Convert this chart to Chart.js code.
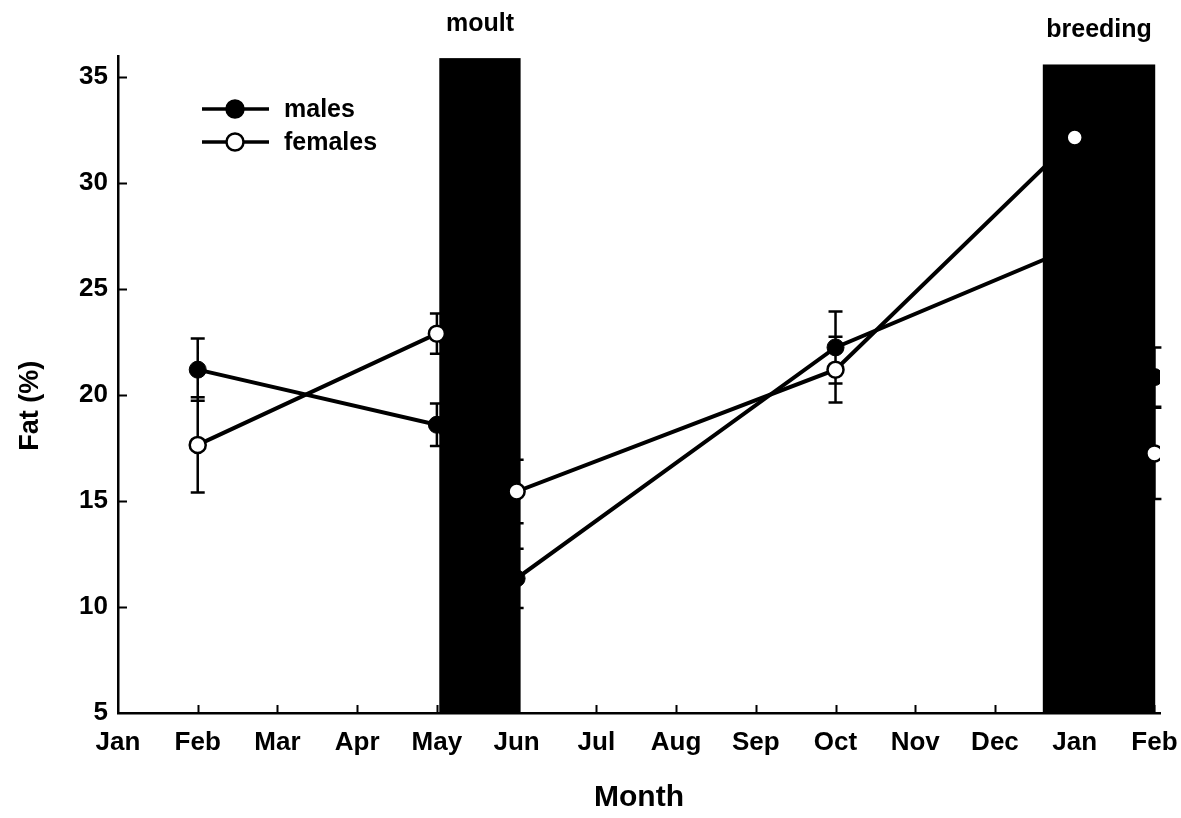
<!DOCTYPE html>
<html>
<head>
<meta charset="utf-8">
<title>Fat (%) by month</title>
<script src="https://cdn.jsdelivr.net/npm/chart.js@4/dist/chart.umd.min.js"></script>
<style>
  html, body { margin: 0; padding: 0; background: #fff; }
  #wrap { width: 1181px; height: 818px; }
</style>
</head>
<body>
<div id="wrap"><canvas id="fatChart" width="1181" height="818"></canvas></div>
<script>
const monthLabels = ["Jan", "Feb", "Mar", "Apr", "May", "Jun", "Jul", "Aug", "Sep", "Oct", "Nov", "Dec", "Jan", "Feb"];
const yTicks = [5, 10, 15, 20, 25, 30, 35];

// sampling months as index into monthLabels
const sampleMonths = [1, 4, 5, 9, 12, 13];
const malesFat = [21.2, 18.6, 11.35, 22.25, 27.0, 20.85];
const malesErr = [1.47, 1.0, 1.4, 1.7, null, 1.4];
const femalesFat = [17.65, 22.9, 15.45, 21.2, 32.15, 17.25];
const femalesErr = [2.25, 0.95, 1.5, 1.55, null, 2.15];

// shaded periods (month units)
const periodNames = ["moult", "breeding"];
const periodStart = [4.03, 11.6];
const periodEnd = [5.05, 13.01];
const periodTop = [35.9, 35.6];

const FONT = "'Liberation Sans', Arial, Helvetica, sans-serif";

const toPoints = (vals) => sampleMonths.map((m, i) => ({ x: m, y: vals[i] }));

// black bars for moult / breeding, error bars and inward ticks, under the lines
const underlayPlugin = {
  id: "underlay",
  beforeDatasetsDraw(chart) {
    const { ctx, scales: { x, y } } = chart;
    ctx.save();

    // inward tick marks
    ctx.strokeStyle = "#000";
    ctx.lineWidth = 2;
    ctx.beginPath();
    yTicks.slice(1).forEach((v) => {
      const py = Math.round(y.getPixelForValue(v)) + 0.5;
      ctx.moveTo(x.left, py);
      ctx.lineTo(x.left + 9, py);
    });
    monthLabels.forEach((_, i) => {
      if (i === 0) return;
      const px = Math.round(x.getPixelForValue(i)) + 0.5;
      ctx.moveTo(px, y.bottom);
      ctx.lineTo(px, y.bottom - 8);
    });
    ctx.stroke();

    ctx.fillStyle = "#000";
    periodNames.forEach((_, i) => {
      const x0 = x.getPixelForValue(periodStart[i]);
      const x1 = x.getPixelForValue(periodEnd[i]);
      const top = y.getPixelForValue(periodTop[i]);
      ctx.fillRect(x0, top, x1 - x0, y.bottom - top);
    });

    // error bars
    ctx.lineWidth = 2.5;
    ctx.beginPath();
    [[malesFat, malesErr], [femalesFat, femalesErr]].forEach(([vals, errs]) => {
      sampleMonths.forEach((m, i) => {
        if (errs[i] == null) return;
        const px = x.getPixelForValue(m);
        const hi = y.getPixelForValue(vals[i] + errs[i]);
        const lo = y.getPixelForValue(vals[i] - errs[i]);
        ctx.moveTo(px, hi);
        ctx.lineTo(px, lo);
        ctx.moveTo(px - 7, hi);
        ctx.lineTo(px + 7, hi);
        ctx.moveTo(px - 7, lo);
        ctx.lineTo(px + 7, lo);
      });
    });
    ctx.stroke();
    ctx.restore();
  },
  afterDraw(chart) {
    const { ctx, scales: { x, y } } = chart;
    ctx.save();
    ctx.fillStyle = "#000";
    ctx.textAlign = "center";
    ctx.textBaseline = "alphabetic";
    ctx.font = "bold 25px " + FONT;
    periodNames.forEach((name, i) => {
      const cx = (x.getPixelForValue(periodStart[i]) + x.getPixelForValue(periodEnd[i])) / 2;
      ctx.fillText(name, cx, y.getPixelForValue(periodTop[i]) - 27);
    });

    // y axis title, sits a little below the middle of the axis
    ctx.save();
    ctx.translate(31, y.getPixelForValue(19.5));
    ctx.rotate(-Math.PI / 2);
    ctx.textBaseline = "middle";
    ctx.font = "bold 27px " + FONT;
    ctx.fillText("Fat (%)", 0, 0);
    ctx.restore();

    // legend
    ctx.font = "bold 25px " + FONT;
    const rows = [
      { label: "males", fill: "#000" },
      { label: "females", fill: "#fff" },
    ];
    const lx = x.left + 84;
    rows.forEach((r, i) => {
      const ly = y.top + 53 + i * 33;
      ctx.strokeStyle = "#000";
      ctx.lineWidth = 3.5;
      ctx.beginPath();
      ctx.moveTo(lx, ly);
      ctx.lineTo(lx + 67, ly);
      ctx.stroke();
      ctx.beginPath();
      ctx.arc(lx + 33, ly, 8.5, 0, Math.PI * 2);
      ctx.fillStyle = r.fill;
      ctx.fill();
      ctx.lineWidth = 2.5;
      ctx.stroke();
      ctx.fillStyle = "#000";
      ctx.textAlign = "left";
      ctx.textBaseline = "middle";
      ctx.fillText(r.label, lx + 82, ly + 1);
    });
    ctx.restore();
  },
};

new Chart(document.getElementById("fatChart"), {
  type: "line",
  data: {
    datasets: [
      {
        label: "males",
        data: toPoints(malesFat),
        borderColor: "#000",
        borderWidth: 4,
        pointRadius: 8.5,
        pointBackgroundColor: "#000",
        pointBorderColor: "#000",
        pointBorderWidth: 1,
        tension: 0,
      },
      {
        label: "females",
        data: toPoints(femalesFat),
        borderColor: "#000",
        borderWidth: 4,
        pointRadius: 8,
        pointBackgroundColor: "#fff",
        pointBorderColor: "#000",
        pointBorderWidth: 2.5,
        tension: 0,
      },
    ],
  },
  options: {
    responsive: false,
    animation: false,
    events: [],
    layout: { padding: { top: 56, right: 21, left: 0, bottom: 0 } },
    plugins: {
      legend: { display: false },
      tooltip: { enabled: false },
    },
    scales: {
      x: {
        type: "linear",
        min: 0,
        max: 13.07,
        grid: { display: false, drawTicks: false },
        border: { display: true, color: "#000", width: 2.5 },
        afterBuildTicks: (s) => { s.ticks = monthLabels.map((_, i) => ({ value: i })); },
        afterFit: (s) => { s.height = 105; s.paddingLeft = 0; s.paddingRight = 0; },
        ticks: {
          autoSkip: false,
          maxRotation: 0,
          padding: 14,
          color: "#000",
          font: { family: FONT, size: 26, weight: "bold" },
          callback: (v) => monthLabels[v],
        },
        title: {
          display: true,
          text: "Month",
          color: "#000",
          padding: { top: 0, bottom: 2 },
          font: { family: FONT, size: 30, weight: "bold" },
        },
      },
      y: {
        min: 5,
        max: 36,
        grid: { display: false, drawTicks: false },
        border: { display: true, color: "#000", width: 2.5 },
        afterBuildTicks: (s) => { s.ticks = yTicks.map((v) => ({ value: v })); },
        afterFit: (s) => { s.width = 118; s.paddingTop = 0; s.paddingBottom = 0; },
        ticks: {
          padding: 10,
          color: "#000",
          font: { family: FONT, size: 26, weight: "bold" },
        },
        title: { display: false },
      },
    },
  },
  plugins: [underlayPlugin],
});
</script>
</body>
</html>
